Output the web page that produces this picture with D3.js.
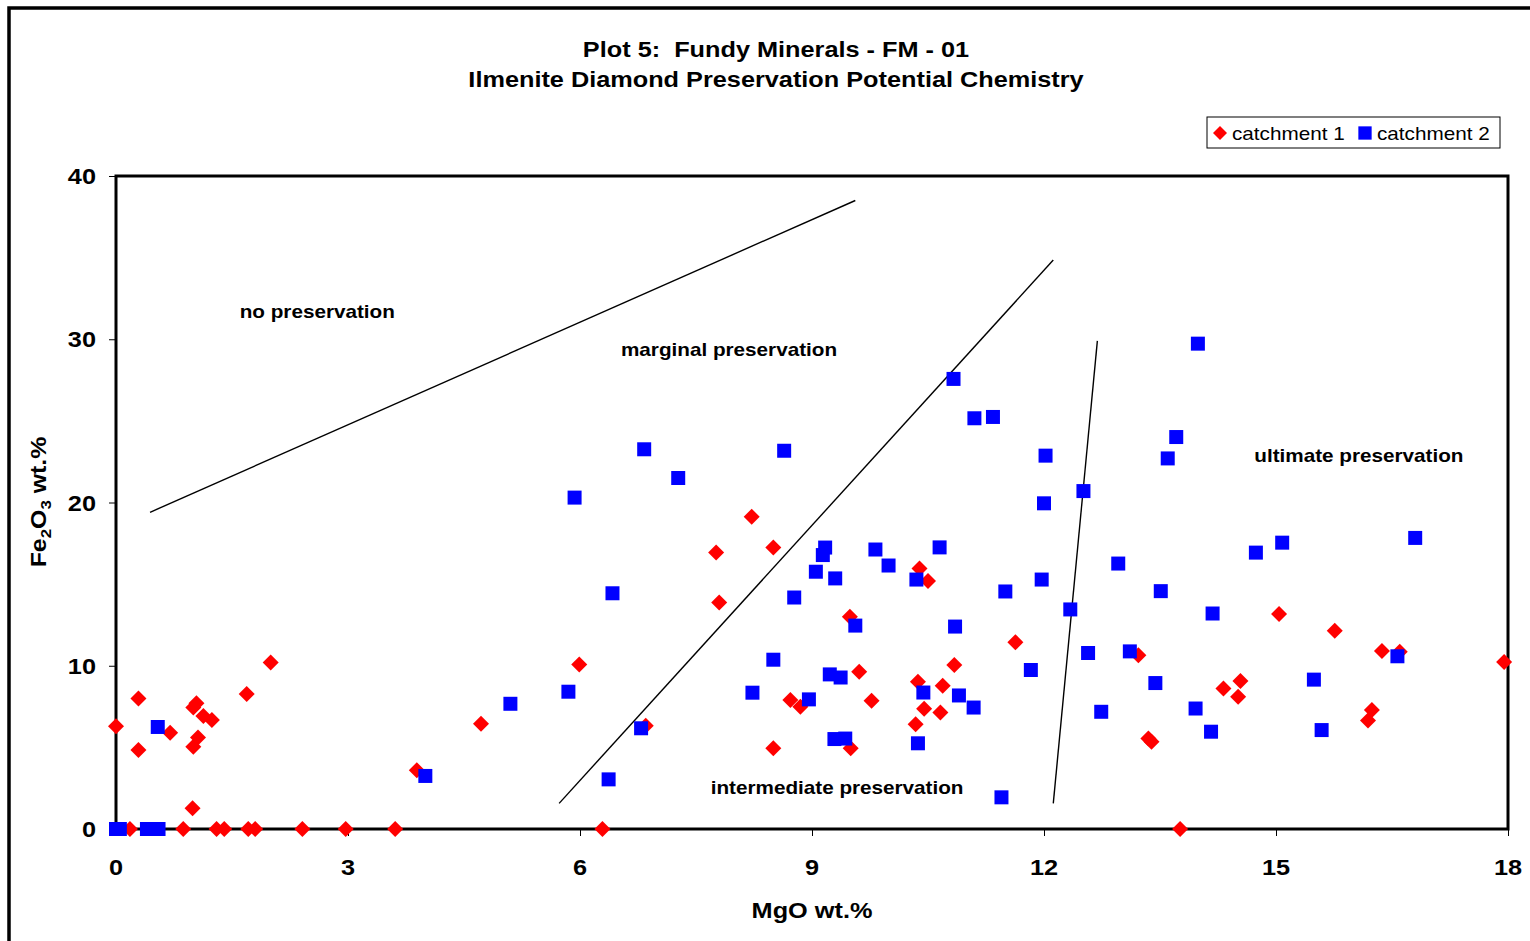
<!DOCTYPE html>
<html>
<meta charset="utf-8">
<head>
  <style>
    body { margin: 0; background: #fff; }
    svg text { font-family: "Liberation Sans", Arial, sans-serif; white-space: pre; }
  </style>
  <script src="https://d3js.org/d3.v7.min.js"></script>
</head>
<body>
<svg id="chart" width="1530" height="941"></svg>
<script>
  // MgO / Fe2O3 wt.%
  var catchment1 = [
    [0.18,0],[0.87,0],[1.30,0],[1.40,0],[1.71,0],[1.80,0],[2.41,0],[2.97,0],[3.61,0],[6.29,0],[13.76,0],
    [0,6.3],[0.29,8.0],[0.29,4.84],[0.70,5.9],[1.04,7.7],[1.0,7.45],[1.13,6.92],[1.24,6.68],[1.06,5.6],
    [1.0,5.04],[1.69,8.27],[2.0,10.2],[0.99,1.27],[3.89,3.6],[4.72,6.45],
    [8.22,19.13],[7.76,16.93],[8.5,17.24],[7.8,13.87],[5.99,10.07],[6.85,6.33],[8.72,7.9],[8.85,7.49],
    [8.5,4.94],[9.49,13.0],[9.61,9.64],[9.77,7.86],[9.5,4.94],[10.39,15.96],[10.5,15.19],[10.37,9.02],
    [10.69,8.77],[10.45,7.37],[10.66,7.14],[10.34,6.41],
    [11.63,11.44],[10.84,10.05],[13.22,10.65],[14.32,8.6],[13.35,5.54],[13.39,5.34],
    [15.04,13.17],[15.76,12.15],[16.37,10.9],[16.6,10.86],[17.95,10.23],[14.54,9.07],[14.51,8.1],
    [16.24,7.29],[16.19,6.64]
  ];
  var catchment2 = [
    [0,0],[0.05,0],[0.4,0],[0.55,0],[0.54,6.25],[4.0,3.25],
    [6.83,23.26],[8.64,23.17],[7.27,21.5],[5.93,20.3],[6.42,14.44],[5.1,7.67],[5.85,8.41],[6.79,6.17],
    [6.37,3.04],[9.17,17.24],[9.14,16.78],[9.82,17.12],[9.99,16.14],[9.05,15.76],[9.3,15.35],[10.65,17.25],
    [10.35,15.28],[8.77,14.18],[9.56,12.46],[8.5,10.37],[9.23,9.47],[9.37,9.28],[8.23,8.35],[8.96,7.94],
    [9.29,5.51],[9.43,5.54],[10.44,8.36],[10.37,5.25],
    [10.83,27.57],[11.1,25.16],[11.34,25.24],[13.99,29.73],[13.71,24.01],[13.6,22.7],[12.02,22.87],
    [12.0,19.95],[12.51,20.7],[11.97,15.28],[11.5,14.55],[10.85,12.4],[12.34,13.45],[12.96,16.26],
    [13.51,14.57],[14.18,13.2],[11.83,9.74],[12.57,10.78],[13.11,10.88],[10.9,8.18],[11.09,7.44],
    [13.44,8.94],[12.74,7.18],[13.96,7.38],[14.16,5.96],[11.45,1.94],
    [15.08,17.54],[14.74,16.93],[16.8,17.83],[15.49,9.15],[15.59,6.06],[16.57,10.58]
  ];
  // field boundaries
  var boundaries = [
    [[0.44,19.4],[9.56,38.5]],
    [[5.73,1.57],[12.12,34.85]],
    [[12.12,1.57],[12.69,29.9]]
  ];
  var fieldLabels = [
    {text: "no preservation", x: 1.60, y: 31.3},
    {text: "marginal preservation", x: 6.53, y: 28.97},
    {text: "intermediate preservation", x: 7.69, y: 2.14},
    {text: "ultimate preservation", x: 14.72, y: 22.48}
  ];
  var xTicks = [0, 3, 6, 9, 12, 15, 18];
  var yTicks = [0, 10, 20, 30, 40];
  var seriesNames = ["catchment 1", "catchment 2"];

  var svg = d3.select("#chart");
  var plotL = 116, plotR = 1508, plotT = 176, plotB = 829;
  var stretch = 1.15;

  var x = d3.scaleLinear().domain([0, 18]).range([plotL, plotR]);
  var y = d3.scaleLinear().domain([0, 40]).range([plotB, plotT]);

  // text is drawn a bit wider than Liberation Sans
  function label(g, str, px, py, size, weight, anchor) {
    return g.append("text")
      .attr("transform", "translate(" + px + "," + py + ") scale(" + stretch + ",1)")
      .attr("text-anchor", anchor || "start")
      .style("font-size", size + "px")
      .style("font-weight", weight)
      .text(str);
  }

  svg.append("rect").attr("width", 1530).attr("height", 941).attr("fill", "#fff");
  // outer chart border
  svg.append("rect").attr("x", 9).attr("y", 8).attr("width", 1540).attr("height", 960)
    .attr("fill", "none").attr("stroke", "#000").attr("stroke-width", 3.5);

  label(svg, "Plot 5:  Fundy Minerals - FM - 01", 776, 57, 22, "bold", "middle");
  label(svg, "Ilmenite Diamond Preservation Potential Chemistry", 776, 87, 22, "bold", "middle");

  // axes
  var xAxis = svg.append("g").attr("transform", "translate(0," + plotB + ")")
    .call(d3.axisBottom(x).tickValues(xTicks).tickSize(7).tickFormat(""));
  var yAxis = svg.append("g").attr("transform", "translate(" + plotL + ",0)")
    .call(d3.axisLeft(y).tickValues(yTicks).tickSize(7).tickFormat(""));
  [xAxis, yAxis].forEach(function(a) {
    a.select(".domain").remove();
    a.selectAll(".tick line").attr("stroke", "#000").attr("stroke-width", 1);
  });
  xTicks.forEach(function(t) { label(svg, t, x(t), 875, 22, "bold", "middle"); });
  yTicks.forEach(function(t) { label(svg, t, 96, y(t) + 8, 22, "bold", "end"); });

  svg.append("rect").attr("x", plotL).attr("y", plotT)
    .attr("width", plotR - plotL).attr("height", plotB - plotT)
    .attr("fill", "none").attr("stroke", "#000").attr("stroke-width", 3);

  label(svg, "MgO wt.%", 812, 918, 22, "bold", "middle");
  var yt = svg.append("text")
    .attr("transform", "translate(46,502) rotate(-90) scale(1.13,1)")
    .attr("text-anchor", "middle")
    .style("font-size", "22px").style("font-weight", "bold");
  yt.append("tspan").text("Fe");
  yt.append("tspan").text("2").attr("dy", 5).style("font-size", "15px");
  yt.append("tspan").text("O").attr("dy", -5);
  yt.append("tspan").text("3").attr("dy", 5).style("font-size", "15px");
  yt.append("tspan").text(" wt.%").attr("dy", -5);

  // boundaries
  var line = d3.line().x(function(d) { return x(d[0]); }).y(function(d) { return y(d[1]); });
  svg.append("g").selectAll("path").data(boundaries).join("path")
    .attr("d", line).attr("fill", "none").attr("stroke", "#000").attr("stroke-width", 1.4);

  fieldLabels.forEach(function(f) { label(svg, f.text, x(f.x), y(f.y), 18, "bold"); });

  var diamond = d3.symbol().type(d3.symbolSquare).size(128);
  var square = d3.symbol().type(d3.symbolSquare).size(196);

  svg.append("g").selectAll("path").data(catchment1).join("path")
    .attr("d", diamond)
    .attr("transform", function(d) { return "translate(" + x(d[0]) + "," + y(d[1]) + ") rotate(45)"; })
    .attr("fill", "#ff0000");
  svg.append("g").selectAll("path").data(catchment2).join("path")
    .attr("d", square)
    .attr("transform", function(d) { return "translate(" + x(d[0]) + "," + y(d[1]) + ")"; })
    .attr("fill", "#0000ff");

  // legend
  var lg = svg.append("g");
  lg.append("rect").attr("x", 1207).attr("y", 117).attr("width", 293).attr("height", 31)
    .attr("fill", "#fff").attr("stroke", "#000").attr("stroke-width", 1);
  lg.append("path").attr("d", d3.symbol().type(d3.symbolSquare).size(98))
    .attr("transform", "translate(1220,133) rotate(45)").attr("fill", "#ff0000");
  lg.append("path").attr("d", d3.symbol().type(d3.symbolSquare).size(177))
    .attr("transform", "translate(1365,133)").attr("fill", "#0000ff");
  label(lg, seriesNames[0], 1232, 140, 18, "normal");
  label(lg, seriesNames[1], 1377, 140, 18, "normal");
</script>
</body>
</html>
